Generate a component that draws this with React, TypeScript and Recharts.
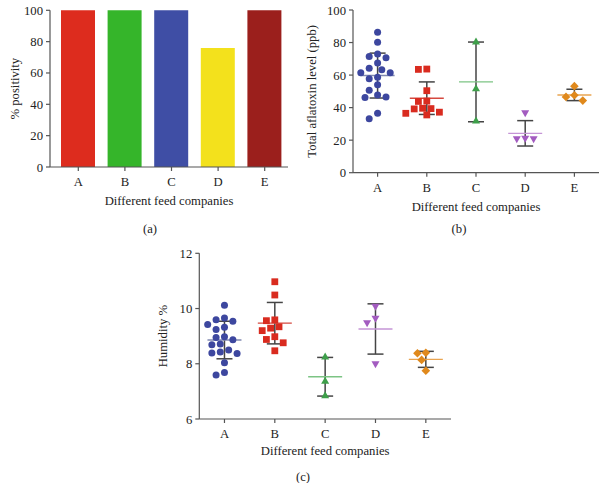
import React from 'react';
import { BarChart, Bar, Cell, XAxis, YAxis, ScatterChart, Scatter, ErrorBar } from 'recharts';

// ---------- data ----------
const CATEGORIES = ['A', 'B', 'C', 'D', 'E'];

// (a) % positivity
const POSITIVITY = [100, 100, 100, 76, 100];
const POSITIVITY_TICKS = [0, 20, 40, 60, 80, 100];

// (b) total aflatoxin level (ppb)
const AFLA_A = [86.3, 80.2, 72.9, 71.4, 70.6, 67.5, 64.2, 63.2, 61.5, 61.5, 58.7, 57.7, 54.0, 50.7, 47.8, 46.6, 46.2, 36.5, 33.2];
const AFLA_B = [63.5, 63.7, 50.4, 44.0, 43.8, 39.6, 39.4, 39.2, 37.2, 36.5, 35.5];
const AFLA_C = [80.5, 51.8, 32.0];
const AFLA_D = [36.7, 21.0, 20.7, 20.7];
const AFLA_E = [53.2, 47.6, 46.6, 44.3];
const AFLA_MEAN = [59.7, 45.8, 55.8, 24.2, 47.8];
const AFLA_SD = [13.8, 10.0, 24.5, 7.8, 3.5];
const AFLA_TICKS = [0, 20, 40, 60, 80, 100];

// (c) humidity %
const HUM_A = [10.12, 9.66, 9.59, 9.54, 9.42, 9.32, 9.24, 8.98, 8.95, 8.87, 8.72, 8.69, 8.5, 8.43, 8.39, 8.37, 8.04, 7.68, 7.59];
const HUM_B = [10.97, 10.49, 9.59, 9.56, 9.34, 9.29, 9.2, 8.98, 8.88, 8.76, 8.47];
const HUM_C = [8.26, 7.38, 6.85];
const HUM_D = [10.07, 9.64, 9.47, 7.99];
const HUM_E = [8.4, 8.38, 8.14, 7.75];
const HUM_MEAN = [8.86, 9.47, 7.53, 9.26, 8.16];
const HUM_SD = [0.68, 0.75, 0.7, 0.91, 0.29];
const HUM_TICKS = [6, 8, 10, 12];

// ---------- styles ----------
const FONT = '"Liberation Serif", "DejaVu Serif", serif';
const FS = 12.7;
const TEXT = '#222';
const AXIS = '#555';
const BAR_COLORS = ['#dd2c1e', '#35b52a', '#3f4ea5', '#f3e11c', '#9b1f1c'];
const DOT_COLORS = ['#3d479f', '#d92b1f', '#3e9f4a', '#a35cc0', '#e0891c'];
const MEAN_COLORS = ['#8089b0', '#d5493f', '#7cc484', '#c595d6', '#e9a450'];
const SHAPES = ['circle', 'square', 'up', 'down', 'diamond'];
const SD_COLOR = '#454545';

const tickStyle = { fill: TEXT, fontSize: FS, fontFamily: FONT };

// beeswarm layout of points within one category
function swarm(values: number[], cat: number, pxPerY: number, bandPx: number) {
  const order = values.map((_, i) => i).sort((a, b) => values[b] - values[a]);
  const placed: { dx: number; py: number }[] = [];
  const out: { x: number; y: number }[] = new Array(values.length);
  const step = 4.2;
  const minD = 7.4;
  for (const i of order) {
    const py = values[i] * pxPerY;
    let chosen = 0;
    let found = false;
    for (let k = 0; k < 30 && !found; k++) {
      const cands = k === 0 ? [0] : [-k * step, k * step];
      for (const dx of cands) {
        if (placed.every((p) => Math.hypot(p.dx - dx, p.py - py) >= minD)) {
          chosen = dx;
          found = true;
          break;
        }
      }
    }
    placed.push({ dx: chosen, py });
    out[i] = { x: cat + chosen / bandPx, y: values[i] };
  }
  return out;
}

const makeShape = (kind: string, color: string) => (props: any) => {
  const { cx, cy } = props;
  if (cx == null || cy == null) return null;
  switch (kind) {
    case 'circle':
      return <circle cx={cx} cy={cy} r={3.5} fill={color} />;
    case 'square':
      return <rect x={cx - 3.4} y={cy - 3.4} width={6.8} height={6.8} fill={color} />;
    case 'up':
      return <polygon points={`${cx},${cy - 4.2} ${cx + 4},${cy + 2.8} ${cx - 4},${cy + 2.8}`} fill={color} />;
    case 'down':
      return <polygon points={`${cx},${cy + 4.2} ${cx + 4},${cy - 2.8} ${cx - 4},${cy - 2.8}`} fill={color} />;
    default:
      return <polygon points={`${cx},${cy - 4.3} ${cx + 4.3},${cy} ${cx},${cy + 4.3} ${cx - 4.3},${cy}`} fill={color} />;
  }
};

const MeanShape = (props: any) => {
  const { cx, cy, payload } = props;
  if (cx == null || cy == null) return null;
  const c = MEAN_COLORS[payload.x] || '#888';
  return <line x1={cx - 17} x2={cx + 17} y1={cy} y2={cy} stroke={c} strokeWidth={1.4} />;
};

function DotPlot(props: {
  width: number;
  height: number;
  margin: { top: number; right: number; bottom: number; left: number };
  yWidth: number;
  xHeight: number;
  groups: number[][];
  means: number[];
  sds: number[];
  domain: [number, number];
  ticks: number[];
  yLabel: string;
}) {
  const { width, height, margin, yWidth, xHeight, groups, means, sds, domain, ticks, yLabel } = props;
  const plotW = width - margin.left - margin.right - yWidth;
  const plotH = height - margin.top - margin.bottom - xHeight;
  const bandPx = plotW / CATEGORIES.length;
  const pxPerY = plotH / (domain[1] - domain[0]);
  const glyph = CATEGORIES.map((_, i) => ({ x: i, y: means[i], sd: sds[i] }));
  return (
    <ScatterChart width={width} height={height} margin={margin}>
      <XAxis
        type="number"
        dataKey="x"
        domain={[-0.5, 4.5]}
        ticks={[0, 1, 2, 3, 4]}
        tickFormatter={(v: number) => CATEGORIES[v] ?? ''}
        height={xHeight}
        tick={tickStyle}
        tickSize={4}
        tickMargin={6}
        stroke={AXIS}
        strokeWidth={1.2}
        allowDataOverflow
        label={{ value: 'Different feed companies', position: 'insideBottom', offset: 0, fill: TEXT, fontSize: FS, fontFamily: FONT }}
      />
      <YAxis
        type="number"
        dataKey="y"
        domain={domain}
        ticks={ticks}
        width={yWidth}
        tick={tickStyle}
        tickSize={4}
        tickMargin={3}
        stroke={AXIS}
        strokeWidth={1.2}
        allowDataOverflow
        label={{ value: yLabel, angle: -90, position: 'insideLeft', offset: 12, fill: TEXT, fontSize: FS, fontFamily: FONT, style: { textAnchor: 'middle' } }}
      />
      <Scatter data={glyph} shape={MeanShape} isAnimationActive={false}>
        <ErrorBar dataKey="sd" direction="y" width={8} stroke={SD_COLOR} strokeWidth={1.5} />
      </Scatter>
      {groups.map((g, i) => (
        <Scatter
          key={i}
          data={swarm(g, i, pxPerY, bandPx)}
          shape={makeShape(SHAPES[i], DOT_COLORS[i])}
          isAnimationActive={false}
        />
      ))}
    </ScatterChart>
  );
}

const panelLabel = (text: string, x: number, y: number) => (
  <div
    style={{
      position: 'absolute',
      left: x,
      top: y,
      transform: 'translate(-50%, -50%)',
      fontFamily: FONT,
      fontSize: FS,
      color: TEXT,
      whiteSpace: 'nowrap',
    }}
  >
    {text}
  </div>
);

export default function App() {
  const barData = CATEGORIES.map((name, i) => ({ name, value: POSITIVITY[i] }));
  return (
    <div style={{ position: 'absolute', left: 0, top: 0, width: 600, height: 483, background: '#fff', fontFamily: FONT, overflow: 'hidden' }}>
      <div style={{ position: 'absolute', left: 0, top: 0 }}>
        <BarChart width={300} height={240} data={barData} margin={{ top: 10.3, right: 12, bottom: 35, left: 0 }}>
          <XAxis
            dataKey="name"
            height={38}
            padding={{ left: 5, right: 0 }}
            tick={tickStyle}
            tickSize={4}
            tickMargin={6}
            stroke={AXIS}
            strokeWidth={1.2}
            label={{ value: 'Different feed companies', position: 'insideBottom', offset: 0, fill: TEXT, fontSize: FS, fontFamily: FONT }}
          />
          <YAxis
            domain={[0, 100]}
            ticks={POSITIVITY_TICKS}
            width={50}
            tick={tickStyle}
            tickSize={4}
            tickMargin={3}
            stroke={AXIS}
            strokeWidth={1.2}
            label={{ value: '% positivity', angle: -90, position: 'insideLeft', offset: 14, fill: TEXT, fontSize: FS, fontFamily: FONT, style: { textAnchor: 'middle' } }}
          />
          <Bar dataKey="value" barSize={34} isAnimationActive={false}>
            {barData.map((_, i) => (
              <Cell key={i} fill={BAR_COLORS[i]} />
            ))}
          </Bar>
        </BarChart>
      </div>
      <div style={{ position: 'absolute', left: 300, top: 0 }}>
        <DotPlot
          width={300}
          height={240}
          margin={{ top: 10, right: 1, bottom: 29.3, left: 0 }}
          yWidth={53}
          xHeight={38}
          groups={[AFLA_A, AFLA_B, AFLA_C, AFLA_D, AFLA_E]}
          means={AFLA_MEAN}
          sds={AFLA_SD}
          domain={[0, 100]}
          ticks={AFLA_TICKS}
          yLabel="Total aflatoxin level (ppb)"
        />
      </div>
      <div style={{ position: 'absolute', left: 150, top: 240 }}>
        <DotPlot
          width={320}
          height={243}
          margin={{ top: 13.3, right: 19, bottom: 28, left: 0 }}
          yWidth={49.3}
          xHeight={36}
          groups={[HUM_A, HUM_B, HUM_C, HUM_D, HUM_E]}
          means={HUM_MEAN}
          sds={HUM_SD}
          domain={[6, 12]}
          ticks={HUM_TICKS}
          yLabel="Humidity %"
        />
      </div>
      {panelLabel('(a)', 150, 229)}
      {panelLabel('(b)', 459, 229)}
      {panelLabel('(c)', 303, 477)}
    </div>
  );
}
